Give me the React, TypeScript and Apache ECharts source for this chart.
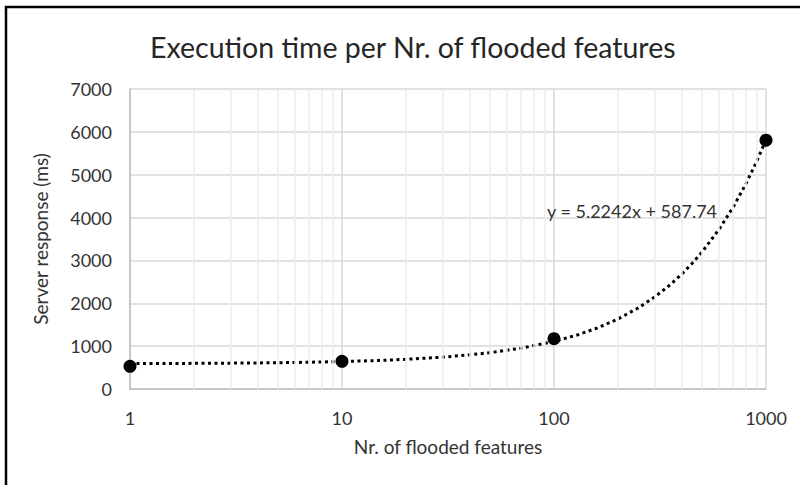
import React, { useEffect, useRef } from "react";
import * as echarts from "echarts";

const featureCounts = [1, 10, 100, 1000];
const responseTimes = [530, 645, 1175, 5806];
const trendSlope = 5.2242;
const trendIntercept = 587.74;
const trendSampleX = [1, 1.5, 2, 3, 4, 5, 7, 10, 15, 20, 30, 40, 50, 70, 100, 130, 160, 200, 250, 300, 350, 400, 450, 500, 600, 700, 800, 900, 1000];
const minorGridX = [2, 3, 4, 5, 6, 7, 8, 9, 20, 30, 40, 50, 60, 70, 80, 90, 200, 300, 400, 500, 600, 700, 800, 900];
const yMin = 0;
const yMax = 7000;
const yStep = 1000;
const titleText = "Execution time per Nr. of flooded features";
const xAxisTitle = "Nr. of flooded features";
const yAxisTitle = "Server response (ms)";
const equationText = "y = 5.2242x + 587.74";

const FONT = "Lato, 'Open Sans', sans-serif";

export default function App() {
  const ref = useRef<HTMLDivElement>(null);
  useEffect(() => {
    if (!ref.current) return;
    const chart = echarts.init(ref.current, null, { renderer: "svg" });
    const pointData = featureCounts.map((x, i) => [x, responseTimes[i]]);
    const trendData = trendSampleX.map((x) => [x, trendSlope * x + trendIntercept]);
    chart.setOption({
      animation: false,
      backgroundColor: "#ffffff",
      textStyle: { fontFamily: FONT },
      title: {
        text: titleText,
        left: 145,
        top: 27,
        textStyle: { fontFamily: FONT, fontSize: 28.5, fontWeight: "normal", color: "#262626" },
      },
      grid: { left: 130, right: 34, top: 89, bottom: 96, containLabel: false },
      xAxis: {
        type: "log",
        logBase: 10,
        min: 1,
        max: 1000,
        name: xAxisTitle,
        nameLocation: "middle",
        nameGap: 48,
        nameTextStyle: { fontSize: 19, color: "#333333", fontFamily: FONT },
        axisLine: { show: true, lineStyle: { color: "#bfbfbf", width: 1.5 } },
        axisTick: { show: false },
        axisLabel: { fontSize: 18, color: "#333333", margin: 20, fontFamily: FONT, formatter: (v: number) => String(v) },
        splitLine: { show: true, lineStyle: { color: "#d9d9d9", width: 1.5 } },
      },
      yAxis: {
        type: "value",
        min: yMin,
        max: yMax,
        interval: yStep,
        name: yAxisTitle,
        nameLocation: "middle",
        nameGap: 80,
        nameRotate: 90,
        nameTextStyle: { fontSize: 19, color: "#333333", fontFamily: FONT },
        axisLine: { show: true, lineStyle: { color: "#bfbfbf", width: 1.5 } },
        axisTick: { show: false },
        axisLabel: { fontSize: 18, color: "#333333", margin: 18, fontFamily: FONT, formatter: (v: number) => String(v) },
        splitLine: { show: true, lineStyle: { color: "#d9d9d9", width: 1.5 } },
      },
      graphic: [
        {
          type: "rect",
          shape: { x: 6, y: 7, width: 820, height: 520 },
          style: { fill: "none", stroke: "#000000", lineWidth: 2.5 },
          silent: true,
          z: 100,
        },
        {
          type: "text",
          left: 547,
          top: 202,
          style: { text: equationText, font: `18px ${FONT}`, fill: "#333333" },
          z: 100,
        },
      ],
      series: [
        {
          type: "line",
          data: [],
          silent: true,
          z: 0,
          markLine: {
            silent: true,
            symbol: ["none", "none"],
            label: { show: false },
            lineStyle: { color: "#ececec", type: "solid", width: 1.5 },
            data: minorGridX.map((x) => ({ xAxis: x })),
          },
        },
        {
          type: "line",
          data: trendData,
          showSymbol: false,
          smooth: false,
          silent: true,
          z: 3,
          lineStyle: { color: "#000000", width: 3, type: [3, 3.5] },
        },
        {
          type: "scatter",
          data: pointData,
          symbol: "circle",
          symbolSize: 13,
          z: 4,
          itemStyle: { color: "#000000", opacity: 1 },
        },
      ],
    });
    return () => chart.dispose();
  }, []);
  return <div ref={ref} style={{ position: "absolute", left: 0, top: 0, width: 800, height: 485 }} />;
}
